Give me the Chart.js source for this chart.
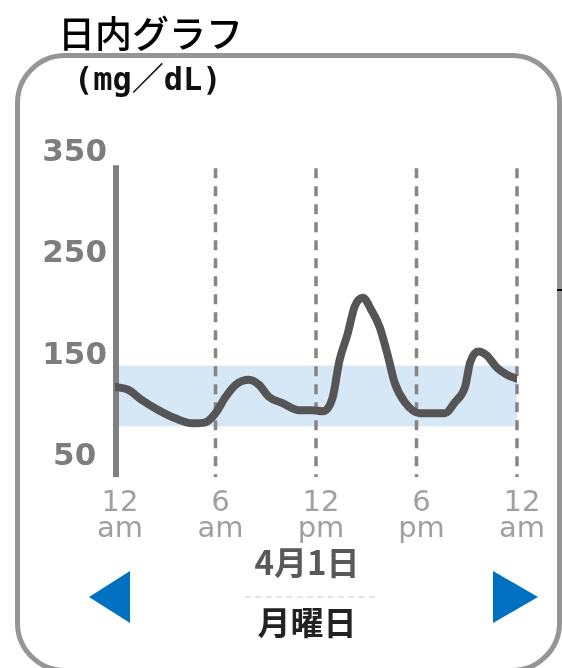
<!DOCTYPE html>
<html>
<head>
<meta charset="utf-8">
<script src="https://cdn.jsdelivr.net/npm/chart.js@4"></script>
<style>
  html, body { margin: 0; padding: 0; background: #fff; }
  #wrap { position: relative; width: 562px; height: 668px; overflow: hidden; }
  #frame {
    position: absolute; left: 15px; top: 53px; width: 547px; height: 620px;
    box-sizing: border-box; border: 5px solid #959595; border-radius: 50px;
  }
  canvas { position: absolute; left: 0; top: 0; }
  .txt { position: absolute; white-space: nowrap; font-family: "Noto Sans CJK JP", sans-serif; line-height: 1; }
  #title { left: 58px; top: 14px; font-size: 37px; font-weight: 500; color: #000; background: #fff; padding-right: 2px; }
  #unit { left: 74px; top: 63px; font-size: 32px; font-weight: bold; color: #111; font-family: "DejaVu Sans Mono", "Noto Sans CJK JP", monospace; }
  #date { left: 0; width: 614px; text-align: center; top: 545px; font-size: 33px; font-weight: bold; color: #595959; }
  #weekday { left: 0; width: 614px; text-align: center; top: 605px; font-size: 33px; font-weight: bold; color: #222; }
  #sep { position: absolute; left: 245px; top: 596px; width: 130px; border-top: 2px dashed #e4e4e4; }
  .tri { position: absolute; width: 0; height: 0; border-top: 26px solid transparent; border-bottom: 26px solid transparent; }
  #prev { left: 89px; top: 571px; border-right: 41px solid #0070c0; }
  #next { left: 493px; top: 571px; border-left: 45px solid #0070c0; }
  #mark { position: absolute; left: 557px; top: 289px; width: 5px; height: 2px; background: #000; }
</style>
</head>
<body>
<div id="wrap">
  <div id="frame"></div>
  <canvas id="day_chart" width="562" height="668"></canvas>
  <div class="txt" id="title">日内グラフ</div>
  <div class="txt" id="unit">(mg／dL)</div>
  <div class="txt" id="date">4月1日</div>
  <div id="sep"></div>
  <div class="txt" id="weekday">月曜日</div>
  <div class="tri" id="prev"></div>
  <div class="tri" id="next"></div>
  <div id="mark"></div>
</div>
<script>
// glucose readings over one day (hour of day, mg/dL)
const HOURS = [0, 0.8, 1.6, 2.6, 3.6, 4.6, 5.4, 6.0, 6.6, 7.2, 8.0, 8.6, 9.2, 10.0, 11.0, 11.8, 12.4, 13.0, 13.4, 13.9,
    14.3, 14.8, 15.3, 15.8, 16.3, 16.7, 17.3, 18.2, 19.7, 20.3, 20.9, 21.2, 21.7, 22.2, 22.8, 23.4, 24];
const GLUCOSE = [119, 116, 106, 96, 88, 83, 84, 93, 109, 121, 126, 121, 109, 103, 96, 96, 95, 109, 145, 172,
    198, 207, 195, 178, 149, 123, 104, 93, 93, 104, 119, 143, 154, 150, 138, 131, 127];

const Y_TICKS = [50, 150, 250, 350];
const X_TICKS = [0, 6, 12, 18, 24];
const X_LABELS = [['12', 'am'], ['6', 'am'], ['12', 'pm'], ['6', 'pm'], ['12', 'am']];
const TARGET_RANGE = [80, 140];
const AXIS_TOP = 338;

(function day_chart()
{
    const guides = {
        id: 'guides',
        beforeDatasetsDraw(chart) {
            const ctx = chart.ctx;
            const x = chart.scales.x, y = chart.scales.y;
            const top = y.getPixelForValue(AXIS_TOP);
            const bottom = chart.chartArea.bottom;
            const x0 = x.getPixelForValue(0), x1 = x.getPixelForValue(24);
            ctx.save();
            // target band
            ctx.fillStyle = '#d6e7f6';
            const bTop = y.getPixelForValue(TARGET_RANGE[1]);
            const bBot = y.getPixelForValue(TARGET_RANGE[0]);
            ctx.fillRect(x0, bTop, x1 - x0, bBot - bTop);
            // dashed hour lines
            ctx.strokeStyle = '#858585';
            ctx.lineWidth = 3.5;
            ctx.setLineDash([10, 8]);
            X_TICKS.slice(1).forEach(h => {
                const px = x.getPixelForValue(h);
                ctx.beginPath();
                ctx.moveTo(px, top + 3);
                ctx.lineTo(px, bottom);
                ctx.stroke();
            });
            // y axis line
            ctx.setLineDash([]);
            ctx.strokeStyle = '#808080';
            ctx.lineWidth = 6;
            ctx.beginPath();
            ctx.moveTo(x0 + 1, top);
            ctx.lineTo(x0 + 1, bottom);
            ctx.stroke();
            ctx.restore();
        }
    };

    const el = document.getElementById('day_chart');
    const myChart = new Chart(el, {
        type: 'line',
        data: {
            datasets: [{
                data: HOURS.map((h, i) => ({ x: h, y: GLUCOSE[i] })),
                borderColor: '#555555',
                borderWidth: 8,
                pointRadius: 0,
                cubicInterpolationMode: 'monotone',
                borderJoinStyle: 'round',
                borderCapStyle: 'round',
                fill: false
            }]
        },
        options: {
            responsive: false,
            animation: false,
            layout: { padding: { top: 153, right: 45, left: 0, bottom: 0 } },
            plugins: { legend: { display: false }, tooltip: { enabled: false } },
            scales: {
                x: {
                    type: 'linear',
                    min: 0,
                    max: 24,
                    afterBuildTicks: (s) => { s.ticks = X_TICKS.map(v => ({ value: v })); },
                    afterFit: (s) => { s.height = 191; },
                    grid: { display: false, drawTicks: false },
                    border: { display: false },
                    ticks: {
                        padding: 14,
                        labelOffset: 5,
                        maxRotation: 0,
                        autoSkip: false,
                        color: '#a0a0a0',
                        font: { family: 'DejaVu Sans', size: 29, lineHeight: 0.88 },
                        callback: (v, i) => X_LABELS[i]
                    }
                },
                y: {
                    min: 30,
                    max: 350,
                    afterBuildTicks: (s) => { s.ticks = Y_TICKS.map(v => ({ value: v })); },
                    afterFit: (s) => { s.width = 115; },
                    grid: { display: false, drawTicks: false },
                    border: { display: false },
                    ticks: {
                        padding: 8,
                        crossAlign: 'center',
                        color: '#7d7d7d',
                        font: { family: 'DejaVu Sans', size: 31, weight: 'bold' }
                    }
                }
            }
        },
        plugins: [guides]
    });
})();
</script>
</body>
</html>
